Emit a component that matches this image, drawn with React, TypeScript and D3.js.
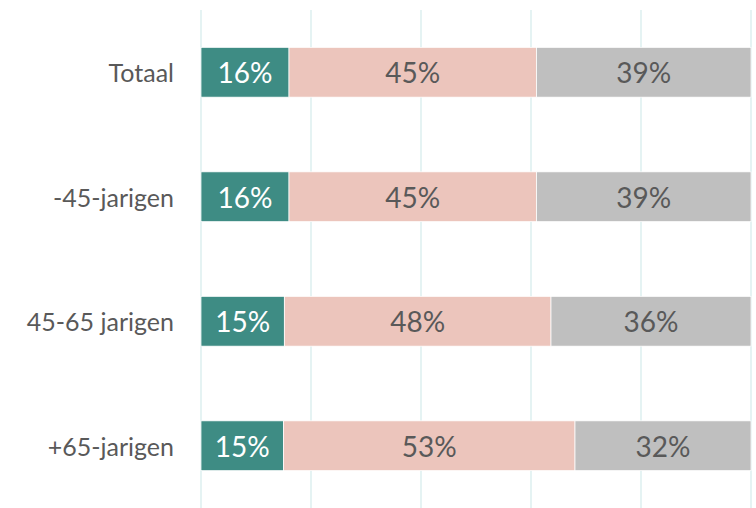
import React from "react";
import * as d3 from "d3";

const categories = ["Totaal", "-45-jarigen", "45-65 jarigen", "+65-jarigen"];
const seriesA = [16, 16, 15, 15];
const seriesB = [45, 45, 48, 53];
const seriesC = [39, 39, 36, 32];
const ticks = [0, 0.2, 0.4, 0.6, 0.8, 1];
const colors = ["#3E8C84", "#ECC5BC", "#BFBFBF"];
const labelColors = ["#FFFFFF", "#595959", "#595959"];

const W = 756;
const H = 508;
const FONT = "Lato, 'Open Sans', sans-serif";

export default function App() {
  const x = d3.scaleLinear().domain([0, 1]).range([201, 751]);
  const y = d3.scaleBand().domain(categories).range([10, 508]).paddingInner(0.6).paddingOuter(0.3);
  const rows = categories.map((c, i) => ({ cat: c, a: seriesA[i], b: seriesB[i], c: seriesC[i] }));
  const keys = ["a", "b", "c"];
  const stacked = d3.stack<any>().keys(keys).offset(d3.stackOffsetExpand)(rows);

  return (
    <svg width={W} height={H} style={{ position: "absolute", left: 0, top: 0, background: "#fff" }}>
      {ticks.map((t) => (
        <line key={t} x1={x(t)} x2={x(t)} y1={10} y2={H} stroke="#DCEFEF" strokeWidth={1.5} />
      ))}
      {stacked.map((s, si) =>
        s.map((d, i) => {
          const x0 = x(d[0]);
          const x1 = x(d[1]);
          const yy = y(categories[i])!;
          const bw = y.bandwidth();
          return (
            <g key={si + "-" + i}>
              <rect x={x0} y={yy} width={x1 - x0} height={bw} fill={colors[si]} stroke="#fff" strokeWidth={0.75} />
              <text
                x={(x0 + x1) / 2}
                y={yy + bw / 2}
                textAnchor="middle"
                dominantBaseline="central"
                fill={labelColors[si]}
                fontFamily={FONT}
                fontSize={28}
              >
                {(rows[i] as any)[keys[si]] + "%"}
              </text>
            </g>
          );
        })
      )}
      {categories.map((c) => (
        <text
          key={c}
          x={174}
          y={y(c)! + y.bandwidth() / 2}
          textAnchor="end"
          dominantBaseline="central"
          fill="#595959"
          fontFamily={FONT}
          fontSize={25}
        >
          {c}
        </text>
      ))}
    </svg>
  );
}
